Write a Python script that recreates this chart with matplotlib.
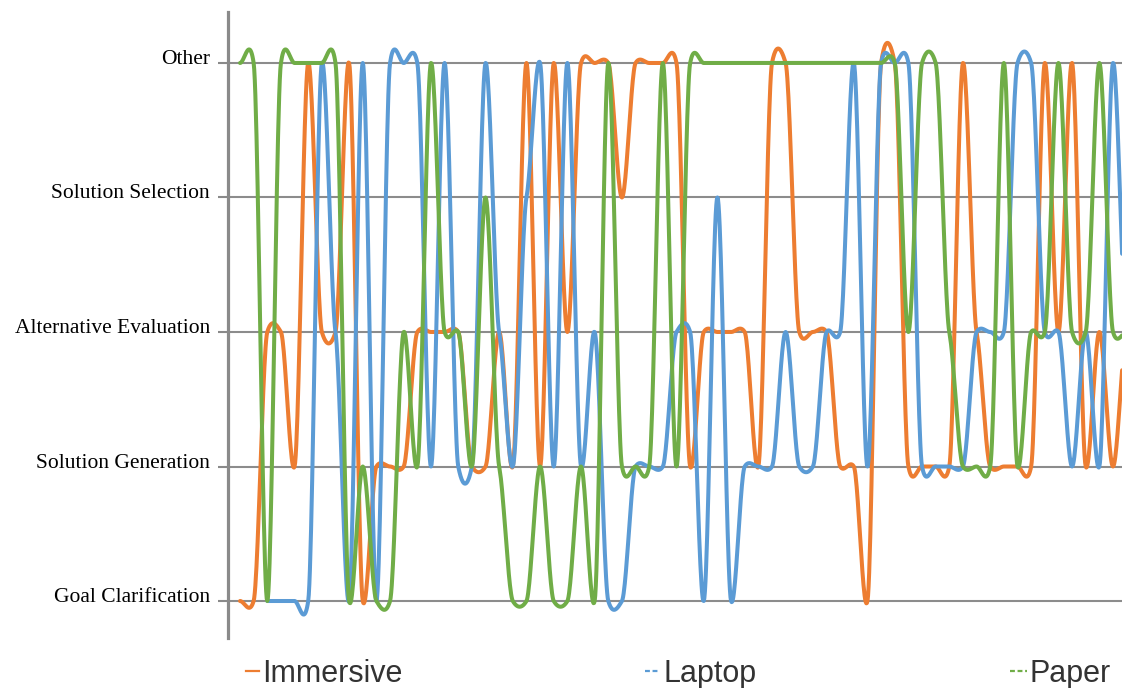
import numpy as np
import matplotlib
matplotlib.use("Agg")
import matplotlib.pyplot as plt
from matplotlib.lines import Line2D
from matplotlib.transforms import ScaledTranslation

# design stages on the y axis (0 = bottom)
stages = ["Goal Clarification", "Solution Generation", "Alternative Evaluation",
          "Solution Selection", "Other"]

nan = np.nan
# stage index at each coded step
immersive = [0, 0, 2, 2, 1, 4, 2, 2, 4, 0,
             1, 1, 1, 2, 2, 2, 2, 1, 1, 2,
             1, 4, 1, 4, 2, 4, 4, 4, 3, 4,
             4, 4, 4, 1, 2, 2, 2, 2, 1, 4,
             4, 2, 2, 2, 1, 1, 0, 4, 4, 1,
             1, 1, 1, 4, 2, 1, 1, 1, 1, 4,
             2, 4, 1, 2, 1, 2]
laptop = [nan, nan, 0, 0, 0, 0, 4, 2, 0, 4,
          0, 4, 4, 4, 1, 4, 1, 1, 4, 2,
          1, 3, 4, 1, 4, 1, 2, 0, 0, 1,
          1, 1, 2, 2, 0, 3, 0, 1, 1, 1,
          2, 1, 1, 2, 2, 4, 1, 4, 4, 4,
          1, 1, 1, 1, 2, 2, 2, 4, 4, 2,
          2, 1, 2, 1, 4, 2]
paper = [4, 4, 0, 4, 4, 4, 4, 4, 0, 1,
         0, 0, 2, 1, 4, 2, 2, 1, 3, 1,
         0, 0, 1, 0, 0, 1, 0, 4, 1, 1,
         1, 4, 1, 4, 4, 4, 4, 4, 4, 4,
         4, 4, 4, 4, 4, 4, 4, 4, 4, 2,
         4, 4, 2, 1, 1, 1, 4, 1, 2, 2,
         4, 2, 2, 4, 2, 2]

names = ["Immersive", "Laptop", "Paper"]
colors = ["#ED7D31", "#5B9BD5", "#70AD47"]

TENSION = 0.17  # excel's smoothing overshoots much less than plain catmull-rom


def catmull(xr, yr, n=24):
    # smoothed line through the points (hermite, damped tangents)
    p = np.r_[yr[0], yr, yr[-1]]
    t = np.linspace(0, 1, n, endpoint=False)
    h00 = 2*t**3 - 3*t**2 + 1
    h10 = t**3 - 2*t**2 + t
    h01 = -2*t**3 + 3*t**2
    h11 = t**3 - t**2
    X, Y = [], []
    for i in range(len(yr) - 1):
        m1 = TENSION * (p[i+2] - p[i])
        m2 = TENSION * (p[i+3] - p[i+1])
        Y.append(h00*p[i+1] + h10*m1 + h01*p[i+2] + h11*m2)
        X.append(xr[i] + t*(xr[i+1] - xr[i]))
    X.append([xr[-1]])
    Y.append([yr[-1]])
    return np.concatenate(X), np.concatenate(Y)


def smooth_runs(vals):
    y = np.asarray(vals, float)
    x = np.arange(len(y), dtype=float)
    ok = np.isfinite(y)
    runs, start = [], None
    for i, good in enumerate(ok):
        if good and start is None:
            start = i
        if (not good or i == len(y) - 1) and start is not None:
            end = i + 1 if good else i
            runs.append(catmull(x[start:end], y[start:end]))
            start = None
    return runs


W, H = 1122, 688
fig = plt.figure(figsize=(W/100, H/100), dpi=100)
ax = fig.add_axes([228/W, 50/H, (W-228)/W, 626/H])

for vals, c in zip([immersive, laptop, paper], colors):
    for xs, ys in smooth_runs(vals):
        ax.plot(xs, ys, color=c, lw=2.9, solid_capstyle="round", solid_joinstyle="round")

ax.set_xlim(-0.88, 64.66)
ax.set_ylim(-0.275, 4.379)
ax.set_xticks([])
ax.set_yticks(range(len(stages)))
ax.set_yticklabels(stages, family=["Liberation Serif", "DejaVu Serif"], fontsize=15.5)
ax.yaxis.grid(True, color="#8c8c8c", lw=1.5)
ax.set_axisbelow(True)
for s in ["top", "right", "bottom"]:
    ax.spines[s].set_visible(False)
ax.spines["left"].set_color("#8a8a8a")
ax.spines["left"].set_linewidth(2.3)
ax.tick_params(axis="y", length=7, width=1.5, color="#8a8a8a", pad=6)
for lab in ax.get_yticklabels():
    lab.set_transform(lab.get_transform() + ScaledTranslation(0, 0.06, fig.dpi_scale_trans))

# legend along the bottom, like the original
leg_x = [(246, 259, 262), (645, 660, 663), (1010, 1027, 1030)]
for (x0, x1, xt), name, c in zip(leg_x, names, colors):
    ls = "-" if name == "Immersive" else (0, (2.2, 1.2))
    fig.add_artist(Line2D([x0/W, x1/W], [1 - 671/H, 1 - 671/H], transform=fig.transFigure,
                          color=c, lw=1.6, linestyle=ls))
    fig.text(xt/W, 1 - 682/H, name, fontsize=22, color="#333333",
             family="Liberation Sans", va="baseline")

fig.savefig("out.png", dpi=100)
